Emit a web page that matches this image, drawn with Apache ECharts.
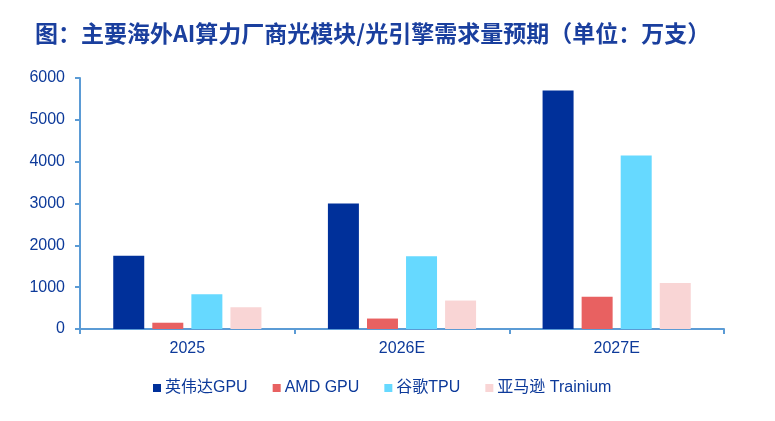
<!DOCTYPE html>
<html>
<head>
<meta charset="utf-8">
<script src="https://cdn.jsdelivr.net/npm/echarts@6/dist/echarts.min.js"></script>
<style>
html,body{margin:0;padding:0;background:#fff;}
#c{width:775px;height:421px;}
</style>
</head>
<body>
<div id="c"></div>
<script>
const titleText = '图：主要海外AI算力厂商光模块/光引擎需求量预期（单位：万支）';
const categories = ['2025', '2026E', '2027E'];
const seriesNames = ['英伟达GPU', 'AMD GPU', '谷歌TPU', '亚马逊 Trainium'];
const nvidiaGPU = [1750, 3000, 5700];
const amdGPU = [150, 250, 770];
const googleTPU = [830, 1740, 4150];
const amazonTrainium = [520, 680, 1100];
const yTicks = [0, 1000, 2000, 3000, 4000, 5000, 6000];

const colors = ['#00309A', '#E86161', '#66D9FF', '#F9D5D5'];
const textColor = '#0D3A9A';
const axisColor = '#5B9BD5';
const font = 'Arial, "Liberation Sans", "Noto Sans CJK SC", sans-serif';

const chart = echarts.init(document.getElementById('c'), null, {renderer: 'canvas'});
const dataSets = [nvidiaGPU, amdGPU, googleTPU, amazonTrainium];

chart.setOption({
  animation: false,
  backgroundColor: '#fff',
  title: {
    text: titleText,
    left: 30,
    top: 17,
    textStyle: {
      color: '#1A3F9E',
      fontSize: 23,
      fontWeight: 'bold',
      fontFamily: '"Noto Sans CJK SC", sans-serif'
    }
  },
  legend: {
    left: 148,
    top: 375,
    itemWidth: 8,
    itemHeight: 8,
    itemGap: 25,
    icon: 'rect',
    textStyle: {color: textColor, fontSize: 16, fontFamily: font, padding: [0,0,0,-1]},
    data: seriesNames
  },
  grid: {left: 80, right: 51, top: 78, bottom: 92, containLabel: false},
  xAxis: {
    type: 'category',
    data: categories,
    axisLine: {lineStyle: {color: axisColor, width: 2}},
    axisTick: {show: true, length: 5, alignWithLabel: false, lineStyle: {color: axisColor, width: 2}},
    axisLabel: {color: textColor, fontSize: 16, fontFamily: font, margin: 12}
  },
  yAxis: {
    type: 'value',
    min: yTicks[0],
    max: yTicks[yTicks.length - 1],
    interval: 1000,
    axisLine: {show: true, lineStyle: {color: axisColor, width: 2}},
    axisTick: {show: true, length: 5, lineStyle: {color: axisColor, width: 2}},
    splitLine: {show: false},
    axisLabel: {color: textColor, fontSize: 16, fontFamily: font, margin: 15, formatter: v => String(v)}
  },
  series: seriesNames.map((n, i) => ({
    name: n,
    type: 'bar',
    data: dataSets[i],
    barWidth: 31,
    barGap: '26%',
    itemStyle: {color: colors[i]}
  }))
});
</script>
</body>
</html>
